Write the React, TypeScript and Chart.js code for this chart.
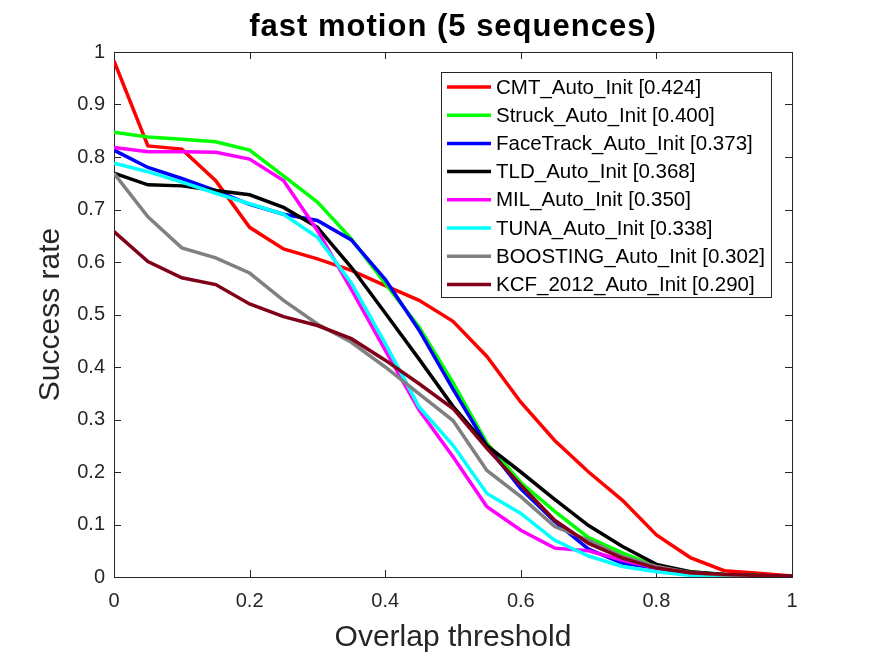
import React, { useRef, useEffect } from 'react';
import { Chart, registerables } from 'chart.js';

Chart.register(...registerables);

// overlap thresholds (x axis)
const thresholds = [0, 0.05, 0.1, 0.15, 0.2, 0.25, 0.3, 0.35, 0.4, 0.45, 0.5, 0.55, 0.6, 0.65, 0.7, 0.75, 0.8, 0.85, 0.9, 0.95, 1];

const trackerNames = [
  'CMT_Auto_Init',
  'Struck_Auto_Init',
  'FaceTrack_Auto_Init',
  'TLD_Auto_Init',
  'MIL_Auto_Init',
  'TUNA_Auto_Init',
  'BOOSTING_Auto_Init',
  'KCF_2012_Auto_Init',
];
const trackerScores = ['0.424', '0.400', '0.373', '0.368', '0.350', '0.338', '0.302', '0.290'];
const trackerColors = ['#ff0000', '#00ff00', '#0000ff', '#000000', '#ff00ff', '#00ffff', '#808080', '#80001a'];

// success rate per threshold
const cmtRate = [0.983, 0.821, 0.815, 0.755, 0.666, 0.625, 0.606, 0.584, 0.555, 0.527, 0.487, 0.42, 0.333, 0.26, 0.2, 0.146, 0.08, 0.037, 0.012, 0.007, 0.002];
const struckRate = [0.847, 0.838, 0.834, 0.829, 0.813, 0.764, 0.714, 0.644, 0.559, 0.476, 0.37, 0.255, 0.18, 0.125, 0.075, 0.046, 0.02, 0.01, 0.005, 0.003, 0.001];
const faceTrackRate = [0.813, 0.78, 0.759, 0.736, 0.71, 0.691, 0.679, 0.642, 0.567, 0.47, 0.358, 0.25, 0.168, 0.106, 0.053, 0.026, 0.017, 0.008, 0.004, 0.002, 0.001];
const tldRate = [0.769, 0.747, 0.745, 0.736, 0.728, 0.704, 0.666, 0.59, 0.503, 0.415, 0.325, 0.25, 0.2, 0.148, 0.098, 0.058, 0.024, 0.01, 0.005, 0.003, 0.001];
const milRate = [0.818, 0.81, 0.81, 0.809, 0.796, 0.755, 0.66, 0.548, 0.432, 0.318, 0.229, 0.134, 0.089, 0.055, 0.05, 0.032, 0.017, 0.008, 0.004, 0.002, 0.001];
const tunaRate = [0.788, 0.772, 0.752, 0.731, 0.711, 0.691, 0.647, 0.56, 0.445, 0.324, 0.251, 0.159, 0.121, 0.07, 0.04, 0.02, 0.01, 0.003, 0.002, 0.001, 0];
const boostingRate = [0.769, 0.686, 0.627, 0.608, 0.579, 0.527, 0.482, 0.447, 0.4, 0.349, 0.298, 0.203, 0.153, 0.096, 0.07, 0.039, 0.02, 0.008, 0.004, 0.002, 0.001];
const kcfRate = [0.658, 0.601, 0.57, 0.557, 0.52, 0.496, 0.479, 0.454, 0.413, 0.368, 0.321, 0.245, 0.175, 0.108, 0.064, 0.036, 0.017, 0.008, 0.005, 0.003, 0.002];

const allRates = [cmtRate, struckRate, faceTrackRate, tldRate, milRate, tunaRate, boostingRate, kcfRate];

const chartTitle = 'fast motion (5 sequences)';
const FONT = '"Liberation Sans", Arial, Helvetica, sans-serif';
const AXIS_COLOR = '#262626';

// matlab style tick text: 0, 0.1, ..., 1
const formatTick = (value: any) => String(Number(Number(value).toFixed(2)));

// matlab-like box with inward ticks, plus the title
const framePlugin = {
  id: 'frame',
  beforeDatasetsDraw(chart: any) {
    const { ctx, chartArea: a, scales } = chart;
    const tick = 7;
    ctx.save();
    ctx.strokeStyle = AXIS_COLOR;
    ctx.lineWidth = 1;
    ctx.strokeRect(a.left + 0.5, a.top + 0.5, a.right - a.left, a.bottom - a.top);
    ctx.beginPath();
    scales.x.ticks.forEach((t: any) => {
      const px = Math.round(scales.x.getPixelForValue(t.value)) + 0.5;
      ctx.moveTo(px, a.bottom);
      ctx.lineTo(px, a.bottom - tick);
      ctx.moveTo(px, a.top);
      ctx.lineTo(px, a.top + tick);
    });
    scales.y.ticks.forEach((t: any) => {
      const py = Math.round(scales.y.getPixelForValue(t.value)) + 0.5;
      ctx.moveTo(a.left, py);
      ctx.lineTo(a.left + tick, py);
      ctx.moveTo(a.right, py);
      ctx.lineTo(a.right - tick, py);
    });
    ctx.stroke();
    ctx.restore();
  },
  afterDraw(chart: any) {
    const { ctx, chartArea: a } = chart;
    ctx.save();
    ctx.fillStyle = '#000000';
    ctx.font = `bold 31px ${FONT}`;
    if ('letterSpacing' in ctx) (ctx as any).letterSpacing = '1px';
    ctx.textAlign = 'center';
    ctx.textBaseline = 'alphabetic';
    ctx.fillText(chartTitle, (a.left + a.right) / 2, 36);
    ctx.restore();
  },
};

// legend box in the top right corner of the axes
const boxLegendPlugin = {
  id: 'boxLegend',
  afterDatasetsDraw(chart: any) {
    const { ctx } = chart;
    const left = 441;
    const top = 72;
    const w = 330;
    const h = 225;
    const rowH = 28.2;
    ctx.save();
    ctx.fillStyle = '#ffffff';
    ctx.fillRect(left, top, w, h);
    ctx.strokeStyle = AXIS_COLOR;
    ctx.lineWidth = 1;
    ctx.strokeRect(left + 0.5, top + 0.5, w, h);
    ctx.font = `20.5px ${FONT}`;
    ctx.textAlign = 'left';
    ctx.textBaseline = 'middle';
    chart.data.datasets.forEach((ds: any, i: number) => {
      const y = top + 15 + i * rowH;
      ctx.strokeStyle = ds.borderColor;
      ctx.lineWidth = 3.5;
      ctx.beginPath();
      ctx.moveTo(left + 6, y);
      ctx.lineTo(left + 50, y);
      ctx.stroke();
      ctx.fillStyle = '#000000';
      ctx.fillText(ds.label, left + 55, y + 1);
    });
    ctx.restore();
  },
};

const App: React.FC = () => {
  const canvasRef = useRef<HTMLCanvasElement>(null);

  useEffect(() => {
    document.body.style.margin = '0';
    if (!canvasRef.current) return;

    const datasets = trackerNames.map((name, i) => ({
      label: `${name} [${trackerScores[i]}]`,
      data: thresholds.map((t, j) => ({ x: t, y: allRates[i][j] })),
      borderColor: trackerColors[i],
      backgroundColor: trackerColors[i],
      borderWidth: 3.5,
      pointRadius: 0,
      tension: 0,
      fill: false,
      order: trackerNames.length - i,
    }));

    const chart = new Chart(canvasRef.current, {
      type: 'line',
      data: { datasets },
      options: {
        responsive: true,
        maintainAspectRatio: false,
        animation: false,
        layout: { padding: { top: 52, right: 83, left: 0, bottom: 0 } },
        plugins: {
          legend: { display: false },
          title: { display: false },
          tooltip: { enabled: false },
        },
        scales: {
          x: {
            type: 'linear',
            min: 0,
            max: 1,
            ticks: {
              stepSize: 0.2,
              color: AXIS_COLOR,
              padding: 12,
              font: { family: FONT, size: 20 },
              callback: formatTick,
            },
            grid: { display: false, drawTicks: false },
            border: { display: false },
            title: {
              display: true,
              text: 'Overlap threshold',
              color: AXIS_COLOR,
              font: { family: FONT, size: 30 },
              padding: { top: 0, bottom: 0 },
            },
            afterFit: (scale: any) => {
              scale.height = 79;
            },
          },
          y: {
            type: 'linear',
            min: 0,
            max: 1,
            ticks: {
              stepSize: 0.1,
              color: AXIS_COLOR,
              padding: 9,
              font: { family: FONT, size: 20 },
              callback: formatTick,
            },
            grid: { display: false, drawTicks: false },
            border: { display: false },
            title: {
              display: true,
              text: 'Success rate',
              color: AXIS_COLOR,
              font: { family: FONT, size: 30 },
              padding: { top: 33, bottom: 0 },
            },
            afterFit: (scale: any) => {
              scale.width = 114;
            },
          },
        },
      },
      plugins: [framePlugin, boxLegendPlugin],
    });

    return () => {
      chart.destroy();
    };
  }, []);

  return (
    <div style={{ width: '875px', height: '656px', position: 'relative', background: '#ffffff' }}>
      <canvas ref={canvasRef}></canvas>
    </div>
  );
};

export default App;
